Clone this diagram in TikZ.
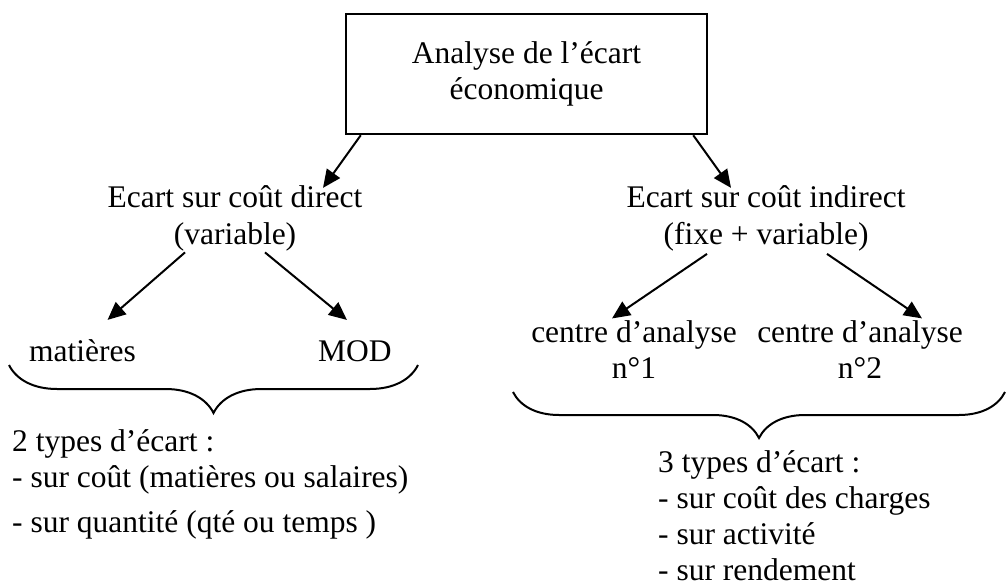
\documentclass[tikz,border=0pt]{standalone}
\usepackage{fontspec}
\setmainfont{Liberation Serif}
\usetikzlibrary{arrows.meta,decorations.pathreplacing}

\tikzset{
  txt/.style={font=\fontsize{31.5}{36}\selectfont, inner sep=0pt},
  arr/.style={line width=2pt, -{Triangle[length=18pt,width=16pt]}},
  accolade/.style={line width=2pt, decorate, decoration={brace, mirror, amplitude=#1}},
}

\begin{document}
\begin{tikzpicture}[x=1pt,y=-1pt]
        \useasboundingbox (0,0) rectangle (1008,585);
        % top box
        \node [txt, draw, line width=2.5pt, minimum width=361pt, minimum height=120pt, align=center] (analyse) at (526.5,74) {Analyse de l’écart\\économique};
        % first level
        \node [txt, anchor=base, align=center] (direct) at (235,244) {Ecart sur coût direct\\(variable)};
        \node [txt, anchor=base, align=center] (indirect) at (766,244) {Ecart sur coût indirect\\(fixe + variable)};
        \draw [arr] ([xshift=16pt]analyse.south west) -- ([xshift=88pt,yshift=-2pt]direct.north);
        \draw [arr] ([xshift=-15pt]analyse.south east) -- ([xshift=-35pt,yshift=-2pt]indirect.north);
        % direct costs
        \node [txt, anchor=base west] (matieres) at (29,361) {matières};
        \node [txt, anchor=base west] (mod) at (318,361) {MOD};
        \draw [arr] ([xshift=-50pt,yshift=-1.5pt]direct.south) -- ([xshift=25pt,yshift=19pt]matieres.north);
        \draw [arr] ([xshift=30pt,yshift=-1.5pt]direct.south) -- ([xshift=-8pt,yshift=20pt]mod.north);
        \draw [accolade=48pt] (9,365) -- (418,365);
        \node [txt, anchor=base west, align=left] (types2) at (12,532) {2 types d’écart :\\- sur coût (matières ou salaires)\\[9pt]- sur quantité (qté ou temps )};
        % indirect costs
        \node [txt, anchor=base, align=center] (centre1) at (634,378) {centre d’analyse\\n°1};
        \node [txt, anchor=base, align=center] (centre2) at (860,378) {centre d’analyse\\n°2};
        \draw [arr] ([xshift=-59pt,yshift=-3pt]indirect.south) -- ([xshift=-22pt,yshift=1.5pt]centre1.north);
        \draw [arr] ([xshift=61pt,yshift=-3pt]indirect.south) -- ([xshift=62pt,yshift=1.5pt]centre2.north);
        \draw [accolade=46pt] (513,392) -- (1005,392);
        \node [txt, anchor=base west, align=left] (types3) at (658,580) {3 types d’écart :\\- sur coût des charges\\- sur activité\\- sur rendement};
    \end{tikzpicture}
\end{document}
